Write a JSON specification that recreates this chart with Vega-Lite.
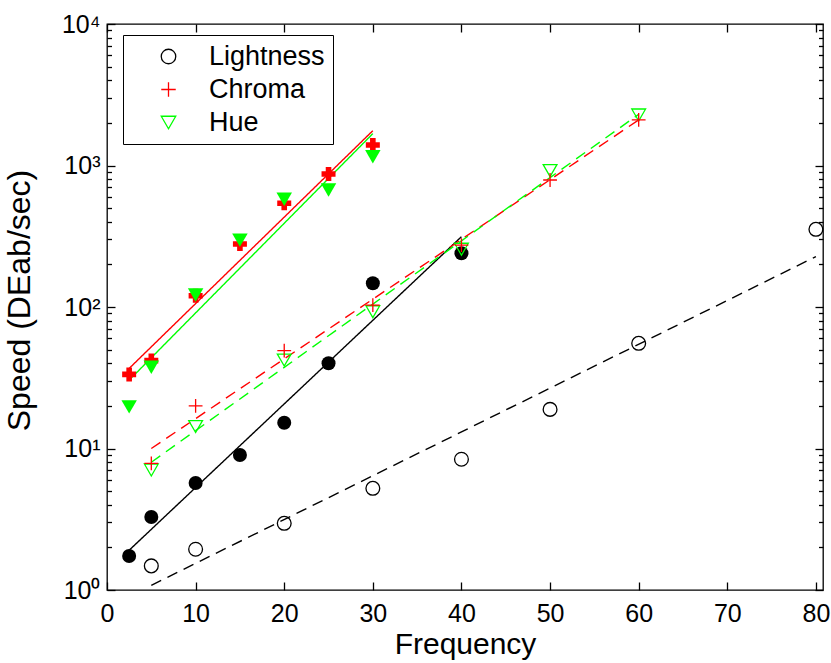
{
  "$schema": "https://vega.github.io/schema/vega-lite/v6.json",
  "width": 716,
  "height": 566,
  "autosize": {"type": "none"},
  "padding": {"left": 107, "top": 24, "right": 8, "bottom": 73},
  "config": {
    "font": "Liberation Sans",
    "view": {"stroke": "#000", "strokeWidth": 1.3},
    "axis": {"domain": false, "grid": false, "tickColor": "#000", "labelColor": "#000", "titleColor": "#000", "titleFontWeight": "normal", "tickWidth": 1.3},
    "legend": {"fillColor": "#ffffff", "strokeColor": "#000000", "padding": 8, "labelFontSize": 27, "labelColor": "#000000", "rowPadding": 5, "symbolSize": 210, "symbolStrokeWidth": 1.3, "labelOffset": 27, "symbolOffset": 24}
  },
  "datasets": {
    "points": [
      {"series": "Lightness", "kind": "open", "freq": 5, "speed": 1.48},
      {"series": "Lightness", "kind": "open", "freq": 10, "speed": 1.94},
      {"series": "Lightness", "kind": "open", "freq": 20, "speed": 2.96},
      {"series": "Lightness", "kind": "open", "freq": 30, "speed": 5.23},
      {"series": "Lightness", "kind": "open", "freq": 40, "speed": 8.39},
      {"series": "Lightness", "kind": "open", "freq": 50, "speed": 18.9},
      {"series": "Lightness", "kind": "open", "freq": 60, "speed": 55.4},
      {"series": "Lightness", "kind": "open", "freq": 80, "speed": 354},
      {"series": "Hue", "kind": "open", "freq": 5, "speed": 7.05},
      {"series": "Hue", "kind": "open", "freq": 10, "speed": 14.3},
      {"series": "Hue", "kind": "open", "freq": 20, "speed": 42.2},
      {"series": "Hue", "kind": "open", "freq": 30, "speed": 92.6},
      {"series": "Hue", "kind": "open", "freq": 40, "speed": 256},
      {"series": "Hue", "kind": "open", "freq": 50, "speed": 920},
      {"series": "Hue", "kind": "open", "freq": 60, "speed": 2275},
      {"series": "Chroma", "kind": "open", "freq": 5, "speed": 7.86},
      {"series": "Chroma", "kind": "open", "freq": 10, "speed": 20.0},
      {"series": "Chroma", "kind": "open", "freq": 20, "speed": 49.1},
      {"series": "Chroma", "kind": "open", "freq": 30, "speed": 103},
      {"series": "Chroma", "kind": "open", "freq": 40, "speed": 274},
      {"series": "Chroma", "kind": "open", "freq": 50, "speed": 790},
      {"series": "Chroma", "kind": "open", "freq": 60, "speed": 2098},
      {"series": "Lightness", "kind": "filled", "freq": 2.5, "speed": 1.74},
      {"series": "Lightness", "kind": "filled", "freq": 5, "speed": 3.28},
      {"series": "Lightness", "kind": "filled", "freq": 10, "speed": 5.7},
      {"series": "Lightness", "kind": "filled", "freq": 15, "speed": 9.0},
      {"series": "Lightness", "kind": "filled", "freq": 20, "speed": 15.2},
      {"series": "Lightness", "kind": "filled", "freq": 25, "speed": 40},
      {"series": "Lightness", "kind": "filled", "freq": 30, "speed": 147},
      {"series": "Lightness", "kind": "filled", "freq": 40, "speed": 240},
      {"series": "Chroma", "kind": "filled", "freq": 2.5, "speed": 33.4},
      {"series": "Chroma", "kind": "filled", "freq": 5, "speed": 41.8},
      {"series": "Chroma", "kind": "filled", "freq": 10, "speed": 120},
      {"series": "Chroma", "kind": "filled", "freq": 15, "speed": 279},
      {"series": "Chroma", "kind": "filled", "freq": 20, "speed": 541},
      {"series": "Chroma", "kind": "filled", "freq": 25, "speed": 871},
      {"series": "Chroma", "kind": "filled", "freq": 30, "speed": 1396},
      {"series": "Hue", "kind": "filled", "freq": 2.5, "speed": 19.7},
      {"series": "Hue", "kind": "filled", "freq": 5, "speed": 37.5},
      {"series": "Hue", "kind": "filled", "freq": 10, "speed": 121.5},
      {"series": "Hue", "kind": "filled", "freq": 15, "speed": 297},
      {"series": "Hue", "kind": "filled", "freq": 20, "speed": 577},
      {"series": "Hue", "kind": "filled", "freq": 25, "speed": 671},
      {"series": "Hue", "kind": "filled", "freq": 30, "speed": 1154}
    ],
    "fits": [
      {"fit": "L-solid", "style": "solid", "freq": 2.5, "speed": 1.91},
      {"fit": "L-solid", "style": "solid", "freq": 40, "speed": 314},
      {"fit": "C-solid", "style": "solid", "freq": 2.5, "speed": 36.8},
      {"fit": "C-solid", "style": "solid", "freq": 30, "speed": 1763},
      {"fit": "H-solid", "style": "solid", "freq": 2.5, "speed": 30.4},
      {"fit": "H-solid", "style": "solid", "freq": 30, "speed": 1680},
      {"fit": "L-dashed", "style": "dashed", "freq": 5, "speed": 1.08},
      {"fit": "L-dashed", "style": "dashed", "freq": 80, "speed": 227},
      {"fit": "C-dashed", "style": "dashed", "freq": 5, "speed": 10.0},
      {"fit": "C-dashed", "style": "dashed", "freq": 60, "speed": 2100},
      {"fit": "H-dashed", "style": "dashed", "freq": 5, "speed": 8.0},
      {"fit": "H-dashed", "style": "dashed", "freq": 60, "speed": 2300}
    ]
  },
  "layer": [
    {
      "data": {"name": "fits"},
      "mark": {"type": "line", "strokeWidth": 1.4},
      "encoding": {
        "x": {"field": "freq", "type": "quantitative", "scale": {"domain": [0, 80.8], "nice": false, "zero": false},
          "axis": {"orient": "bottom", "values": [0, 10, 20, 30, 40, 50, 60, 70, 80], "tickSize": -8, "labelFontSize": 25, "labelPadding": 19, "labelBaseline": "top", "labelFlush": false,
            "title": "Frequency", "titleFontSize": 30, "titleBaseline": "alphabetic", "titleY": 63, "titleX": 358}},
        "y": {"field": "speed", "type": "quantitative", "scale": {"type": "log", "domain": [1, 10000], "nice": false},
          "axis": {"orient": "left", "values": [1, 10, 100, 1000, 10000], "tickSize": -8, "labelFontSize": 25, "labelPadding": 15, "labelBaseline": "middle", "labelFlush": false,
            "labelExpr": "datum.value == 1 ? '10⁰' : datum.value == 10 ? '10¹' : datum.value == 100 ? '10²' : datum.value == 1000 ? '10³' : '10⁴'",
            "title": "Speed (DEab/sec)", "titleFontSize": 32, "titleAngle": 270, "titleBaseline": "top", "titleAlign": "center", "titleX": -103, "titleY": 276}},
        "detail": {"field": "fit"},
        "stroke": {"field": "fit", "type": "nominal", "scale": {"domain": ["L-solid", "C-solid", "H-solid", "L-dashed", "C-dashed", "H-dashed"], "range": ["#000000", "#ff0000", "#00ff00", "#000000", "#ff0000", "#00ff00"]}, "legend": null},
        "strokeDash": {"field": "style", "type": "nominal", "scale": {"domain": ["solid", "dashed"], "range": [[1, 0], [11, 7]]}, "legend": null}
      }
    },
    {
      "data": {"name": "points"},
      "transform": [{"filter": "datum.kind == 'filled' && datum.series == 'Lightness'"}],
      "mark": {"type": "point", "shape": "circle", "filled": true, "color": "#000000", "size": 196, "opacity": 1},
      "encoding": {
        "x": {"field": "freq", "type": "quantitative", "axis": {"orient": "top", "values": [0, 10, 20, 30, 40, 50, 60, 70, 80], "tickSize": -8, "labels": false, "title": null}},
        "y": {"field": "speed", "type": "quantitative", "axis": {"orient": "right", "values": [1, 10, 100, 1000, 10000], "tickSize": -8, "labels": false, "title": null}}
      }
    },
    {
      "data": {"name": "points"},
      "transform": [{"filter": "datum.kind == 'filled' && datum.series == 'Chroma'"}],
      "mark": {"type": "point", "shape": "cross", "filled": true, "color": "#ff0000", "size": 196, "opacity": 1},
      "encoding": {
        "x": {"field": "freq", "type": "quantitative", "axis": null},
        "y": {"field": "speed", "type": "quantitative", "axis": {"orient": "left", "values": [2, 3, 4, 5, 6, 7, 8, 9, 20, 30, 40, 50, 60, 70, 80, 90, 200, 300, 400, 500, 600, 700, 800, 900, 2000, 3000, 4000, 5000, 6000, 7000, 8000, 9000], "tickSize": -4.5, "labels": false, "title": null}}
      }
    },
    {
      "data": {"name": "points"},
      "transform": [{"filter": "datum.kind == 'filled' && datum.series == 'Hue'"}],
      "mark": {"type": "point", "shape": "triangle-down", "filled": true, "color": "#00ff00", "size": 240, "opacity": 1},
      "encoding": {
        "x": {"field": "freq", "type": "quantitative", "axis": null},
        "y": {"field": "speed", "type": "quantitative", "axis": {"orient": "right", "values": [2, 3, 4, 5, 6, 7, 8, 9, 20, 30, 40, 50, 60, 70, 80, 90, 200, 300, 400, 500, 600, 700, 800, 900, 2000, 3000, 4000, 5000, 6000, 7000, 8000, 9000], "tickSize": -4.5, "labels": false, "title": null}}
      }
    },
    {
      "data": {"name": "points"},
      "transform": [{"filter": "datum.kind == 'open'"}],
      "mark": {"type": "point", "filled": false, "strokeWidth": 1.3, "size": 190, "opacity": 1},
      "encoding": {
        "x": {"field": "freq", "type": "quantitative", "axis": null},
        "y": {"field": "speed", "type": "quantitative", "axis": null},
        "color": {"field": "series", "type": "nominal", "scale": {"domain": ["Lightness", "Chroma", "Hue"], "range": ["#000000", "#ff0000", "#00ff00"]},
          "legend": {"title": null, "orient": "none", "legendX": 16, "legendY": 11}},
        "shape": {"field": "series", "type": "nominal", "scale": {"domain": ["Lightness", "Chroma", "Hue"], "range": ["circle", "M-1,0L1,0M0,-1L0,1", "triangle-down"]},
          "legend": {"title": null, "orient": "none", "legendX": 16, "legendY": 11}}
      }
    }
  ],
  "resolve": {"axis": {"x": "independent", "y": "independent"}}
}
